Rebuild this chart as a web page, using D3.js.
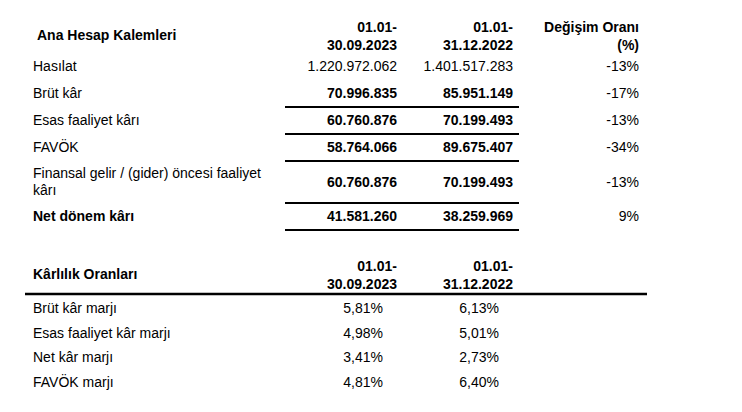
<!DOCTYPE html>
<html>
<head>
<meta charset="utf-8">
<script src="https://cdn.jsdelivr.net/npm/d3@7"></script>
<style>
  body { margin: 0; background: #fff; }
  svg { display: block; font-family: "Liberation Sans", Arial, sans-serif; font-size: 14px; }
  text { fill: #000; }
</style>
</head>
<body>
<script>
// Ana hesap kalemleri
const kalemler = ["Hasılat", "Brüt kâr", "Esas faaliyet kârı", "FAVÖK",
  "Finansal gelir / (gider) öncesi faaliyet kârı", "Net dönem kârı"]
const donem2023 = [1220972062, 70996835, 60760876, 58764066, 60760876, 41581260]
const donem2022 = [1401517283, 85951149, 70199493, 89675407, 70199493, 38259969]
const degisim = [-13, -17, -13, -34, -13, 9]

// Kârlılık oranları
const oranlar = ["Brüt kâr marjı", "Esas faaliyet kâr marjı", "Net kâr marjı", "FAVÖK marjı"]
const oran2023 = [5.81, 4.98, 3.41, 4.81]
const oran2022 = [6.13, 5.01, 2.73, 6.40]

const baslik1 = "Ana Hesap Kalemleri"
const baslik2 = "Kârlılık Oranları"
const donemBasliklari = [["01.01-", "30.09.2023"], ["01.01-", "31.12.2022"]]
const degisimBaslik = ["Değişim Oranı", "(%)"]

const WIDTH = 742
const HEIGHT = 412

const tr = d3.formatLocale({ decimal: ",", thousands: ".", grouping: [3], currency: ["", " TL"], minus: "-" })
const fmtSayi = tr.format(",d")
const fmtOran = v => tr.format(".2f")(v) + "%"
const fmtDegisim = v => tr.format("d")(v) + "%"

const svg = d3.select('body')
  .append('svg')
  .attr('width', WIDTH)
  .attr('height', HEIGHT)

// sütunların sağ kenarları
const kolon = d3.scaleOrdinal()
  .domain(["d2023", "d2022", "degisim"])
  .range([397, 513, 639])
const kolonOran = d3.scaleOrdinal()
  .domain(["d2023", "d2022"])
  .range([383, 499])

// ---------- Tablo 1 ----------
const t1 = svg.append('g')

t1.append('text')
  .attr('x', 37).attr('y', 35).attr('dy', '0.35em')
  .attr('font-weight', 'bold')
  .text(baslik1)

const ustBaslik = (g, lines, x, y) => {
  const t = g.append('text')
    .attr('x', x).attr('y', y)
    .attr('text-anchor', 'end')
    .attr('font-weight', 'bold')
  lines.forEach((l, i) => {
    t.append('tspan').attr('x', x).attr('y', y + i * 18).attr('dy', '0.35em').text(l)
  })
}
ustBaslik(t1, donemBasliklari[0], kolon("d2023"), 27)
ustBaslik(t1, donemBasliklari[1], kolon("d2022"), 27)
ustBaslik(t1, degisimBaslik, kolon("degisim"), 27)

// satır etiketlerini sar
const maxLabel = 232
const satirlar = kalemler.map((k, i) => ({
  etiket: k, a: donem2023[i], b: donem2022[i], c: degisim[i], i
}))

const olcu = svg.append('text').attr('visibility', 'hidden')
const sar = s => {
  const words = s.split(' ')
  const lines = []
  let cur = ''
  words.forEach(w => {
    const test = cur ? cur + ' ' + w : w
    olcu.text(test)
    if (olcu.node().getComputedTextLength() > maxLabel && cur) {
      lines.push(cur)
      cur = w
    } else {
      cur = test
    }
  })
  lines.push(cur)
  return lines
}
satirlar.forEach(d => { d.lines = sar(d.etiket) })
olcu.remove()

const rowH = 27
const lineStep = 17
let yPos = 53
satirlar.forEach(d => {
  d.top = yPos
  d.h = rowH + (d.lines.length - 1) * 15
  d.mid = yPos + d.h / 2
  yPos += d.h
})

const rows = t1.selectAll('g.satir')
  .data(satirlar)
  .enter()
  .append('g')
  .attr('class', 'satir')

rows.append('text')
  .attr('x', 33)
  .attr('font-weight', d => d.etiket === "Net dönem kârı" ? 'bold' : 'normal')
  .each(function(d) {
    const n = d.lines.length
    d3.select(this).selectAll('tspan')
      .data(d.lines)
      .enter()
      .append('tspan')
      .attr('x', 33)
      .attr('y', (l, j) => d.mid + (j - (n - 1) / 2) * lineStep)
      .attr('dy', '0.35em')
      .text(l => l)
  })

rows.append('text')
  .attr('x', kolon("d2023")).attr('y', d => d.mid).attr('dy', '0.35em')
  .attr('text-anchor', 'end')
  .attr('font-weight', d => d.i > 0 ? 'bold' : 'normal')
  .text(d => fmtSayi(d.a))

rows.append('text')
  .attr('x', kolon("d2022")).attr('y', d => d.mid).attr('dy', '0.35em')
  .attr('text-anchor', 'end')
  .attr('font-weight', d => d.i > 0 ? 'bold' : 'normal')
  .text(d => fmtSayi(d.b))

rows.append('text')
  .attr('x', kolon("degisim")).attr('y', d => d.mid).attr('dy', '0.35em')
  .attr('text-anchor', 'end')
  .text(d => fmtDegisim(d.c))

// toplam çizgileri
rows.filter(d => d.i > 0)
  .append('line')
  .attr('x1', 285).attr('x2', 519)
  .attr('y1', d => d.top + d.h).attr('y2', d => d.top + d.h)
  .attr('stroke', '#000')
  .attr('stroke-width', 2)

// ---------- Tablo 2 ----------
const t2 = svg.append('g')

t2.append('text')
  .attr('x', 33).attr('y', 274).attr('dy', '0.35em')
  .attr('font-weight', 'bold')
  .text(baslik2)

ustBaslik(t2, donemBasliklari[0], kolon("d2023"), 266)
ustBaslik(t2, donemBasliklari[1], kolon("d2022"), 266)

t2.append('line')
  .attr('x1', 25).attr('x2', 647)
  .attr('y1', 294).attr('y2', 294)
  .attr('stroke', '#000')
  .attr('stroke-width', 2.5)

const y2 = d3.scaleBand()
  .domain(oranlar)
  .range([296, 394])

const rows2 = t2.selectAll('g.oran')
  .data(oranlar.map((o, i) => ({ etiket: o, a: oran2023[i], b: oran2022[i] })))
  .enter()
  .append('g')
  .attr('class', 'oran')

rows2.append('text')
  .attr('x', 33)
  .attr('y', d => y2(d.etiket) + y2.bandwidth() / 2)
  .attr('dy', '0.35em')
  .text(d => d.etiket)

rows2.append('text')
  .attr('x', kolonOran("d2023"))
  .attr('y', d => y2(d.etiket) + y2.bandwidth() / 2)
  .attr('dy', '0.35em')
  .attr('text-anchor', 'end')
  .text(d => fmtOran(d.a))

rows2.append('text')
  .attr('x', kolonOran("d2022"))
  .attr('y', d => y2(d.etiket) + y2.bandwidth() / 2)
  .attr('dy', '0.35em')
  .attr('text-anchor', 'end')
  .text(d => fmtOran(d.b))
</script>
</body>
</html>
